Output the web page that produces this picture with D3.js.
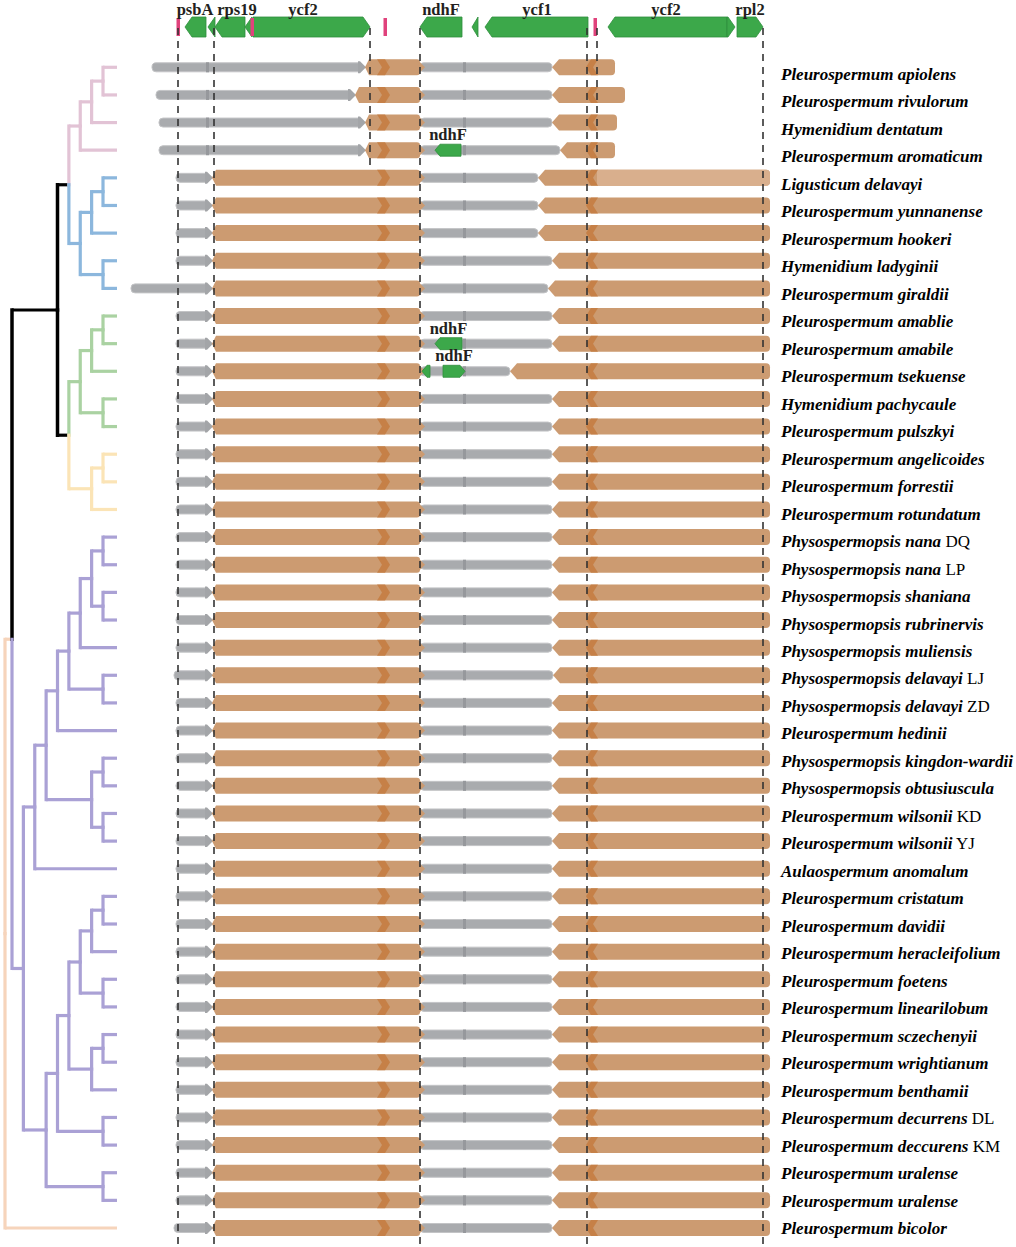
<!DOCTYPE html>
<html>
<head>
<meta charset="utf-8">
<script src="https://cdn.jsdelivr.net/npm/d3@7"></script>
<style>
body { margin: 0; background: #fff; }
text { font-family: "Liberation Serif", "Times New Roman", serif; }
</style>
</head>
<body>
<svg id="chart" width="1016" height="1247"></svg>
<script>
// taxa, top to bottom
var taxa = ["Pleurospermum apiolens", "Pleurospermum rivulorum", "Hymenidium dentatum", "Pleurospermum aromaticum",
  "Ligusticum delavayi", "Pleurospermum yunnanense", "Pleurospermum hookeri", "Hymenidium ladyginii",
  "Pleurospermum giraldii", "Pleurospermum amablie", "Pleurospermum amabile", "Pleurospermum tsekuense",
  "Hymenidium pachycaule", "Pleurospermum pulszkyi", "Pleurospermum angelicoides", "Pleurospermum forrestii",
  "Pleurospermum rotundatum", "Physospermopsis nana", "Physospermopsis nana", "Physospermopsis shaniana",
  "Physospermopsis rubrinervis", "Physospermopsis muliensis", "Physospermopsis delavayi", "Physospermopsis delavayi",
  "Pleurospermum hedinii", "Physospermopsis kingdon-wardii", "Physospermopsis obtusiuscula", "Pleurospermum wilsonii",
  "Pleurospermum wilsonii", "Aulaospermum anomalum", "Pleurospermum cristatum", "Pleurospermum davidii",
  "Pleurospermum heracleifolium", "Pleurospermum foetens", "Pleurospermum linearilobum", "Pleurospermum sczechenyii",
  "Pleurospermum wrightianum", "Pleurospermum benthamii", "Pleurospermum decurrens", "Pleurospermum deccurens",
  "Pleurospermum uralense", "Pleurospermum uralense", "Pleurospermum bicolor"];
var tags = ["", "", "", "", "", "", "", "", "", "", "", "", "", "", "", "", "",
  "DQ", "LP", "", "", "", "LJ", "ZD", "", "", "", "KD", "YJ", "", "", "", "", "", "", "", "", "", "DL", "KM", "", "", ""];

// tree topology (tip = row index)
var cladePink = [[[0, 1], 2], 3];
var cladeBlue = [[[4, 5], 6], [7, 8]];
var cladeGreen = [[[9, 10], 11], [12, 13]];
var cladeYellow = [[14, 15], 16];
var cladePurple = [[[[[[[[17, 18], [19, 20]], 21], [22, 23]], 24], [[25, 26], [27, 28]]], 29],
  [[[[[[30, 31], 32], [33, 34]], [[35, 36], 37]], [38, 39]], [40, 41]]];
var topology = [[[[cladePink, cladeBlue], [cladeGreen, cladeYellow]], cladePurple], 42];

// region borders per row, map units
var lscStart = [22, 26, 29, 29, 46, 46, 46, 46, 1, 46, 46, 46, 46, 46, 46, 46, 46, 46, 46, 46, 46, 46, 44, 46,
  46, 46, 46, 46, 46, 46, 46, 46, 46, 46, 46, 46, 46, 46, 46, 46, 46, 46, 44];
var irAStart = [235, 225, 235, 235, 82, 82, 82, 82, 82, 82, 82, 82, 82, 82, 82, 82, 82, 82, 82, 82, 82, 82, 82, 82,
  82, 82, 82, 82, 82, 82, 82, 82, 82, 82, 82, 82, 82, 82, 82, 82, 82, 82, 82];
var irAEnd = [290, 290, 290, 290, 290, 290, 290, 290, 290, 290, 290, 290, 290, 290, 290, 290, 290, 290, 290, 290, 290,
  290, 290, 290, 290, 290, 290, 290, 290, 290, 290, 290, 290, 290, 290, 290, 290, 290, 290, 290, 290, 290, 290];
var irBStart = [422, 422, 422, 430, 408, 408, 408, 422, 418, 422, 422, 380, 422, 422, 422, 422, 422, 422, 422, 422, 422,
  422, 423, 422, 422, 422, 422, 422, 422, 422, 422, 422, 422, 422, 422, 422, 422, 422, 422, 422, 422, 422, 422];
var irBEnd = [485, 495, 487, 485, 640, 640, 640, 640, 640, 640, 640, 640, 640, 640, 640, 640, 640, 640, 640, 640, 640,
  640, 640, 640, 640, 640, 640, 640, 640, 640, 640, 640, 640, 640, 640, 640, 640, 640, 640, 640, 640, 640, 640];
var fadedRows = [4];
var fadeFrom = 467;
var irAMark = 247, irBMark = 456, sscJoint = 335, lscJoint = 78;

// genes drawn inside rows
var rowGeneRow = [3, 10, 11, 11];
var rowGeneName = ["ndhF", "ndhF", "", "ndhF"];
var rowGeneStart = [305, 305, 292, 313];
var rowGeneEnd = [331, 332, 300, 335];
var rowGeneStrand = [-1, -1, -1, 1];

// reference genes on top
var geneName = ["psbA", "", "rps19", "", "ycf2", "ndhF", "", "ycf1", "ycf2", "", "rpl2"];
var geneStart = [55, 78, 85, 115, 123, 290, 342, 355, 478, 597, 607];
var geneEnd = [76, 85, 115, 122, 240, 332, 348, 458, 597, 605, 633];
var geneStrand = [-1, -1, -1, -1, 1, -1, -1, -1, -1, 1, 1];
var geneLabelAt = [65, 0, 107, 0, 173, 311, 0, 407, 536, 0, 620];
var trnMarks = [48, 122, 255, 465];

// junction lines and how many rows they cover
var junctions = [48, 84, 240, 290, 457, 467, 633];
var junctionRows = [43, 43, 4, 43, 43, 4, 43];

var cladeColors = ["#e2c3d5", "#8cb7dd", "#aad2a2", "#fbe4b6", "#aaa1d5"];
var peach = "#f6d4bb";
var orange = "#cc9b71", orangeDark = "#c47b40", orangeLight = "#d9af8d";
var grey = "#a9abae", greyDark = "#96989c", green = "#3ca84a";

var svg = d3.select("#chart");
var xMap = d3.scaleLinear().domain([0, 640]).range([130, 770]);
var yRow = d3.scaleLinear().domain([0, taxa.length - 1]).range([67.3, 1228]);
var yLabel = d3.scaleLinear().domain([0, taxa.length - 1]).range([80, 1234]);
var xTree = d3.scaleLinear().domain([0, 1, 9, 10]).range([117, 103, 12, 5]);

function arrowPath(x0, x1, yc, h, dir, tip) {
	var t = Math.min(tip, x1 - x0), top = yc - h / 2, bot = yc + h / 2;
	if (dir > 0) {
		return "M" + x0 + "," + top + "L" + (x1 - t) + "," + top + "L" + x1 + "," + yc + "L" + (x1 - t) + "," + bot + "L" + x0 + "," + bot + "Z";
	}
	return "M" + x1 + "," + top + "L" + (x0 + t) + "," + top + "L" + x0 + "," + yc + "L" + (x0 + t) + "," + bot + "L" + x1 + "," + bot + "Z";
}

// ---- tree
var root = d3.hierarchy(topology, function (d) { return Array.isArray(d) ? d : null; });
root.eachAfter(function (n) {
	n.ty = n.children ? d3.mean(n.children, function (c) { return c.ty; }) : yRow(n.data);
	n.tx = xTree(n.height);
});
function edgeColor(n) {
	var anc = n.ancestors();
	for (var i = 0; i < anc.length; i++) {
		var k = [cladePink, cladeBlue, cladeGreen, cladeYellow, cladePurple].indexOf(anc[i].data);
		if (k >= 0) return cladeColors[k];
	}
	return n.depth === 1 ? peach : "#000";
}
var edges = root.descendants().filter(function (n) { return n.parent; });
svg.append("g").attr("id", "tree")
	.selectAll("path").data(edges).enter().append("path")
	.attr("d", function (n) { return "M" + n.parent.tx + "," + n.ty + "H" + n.tx; })
	.attr("fill", "none")
	.attr("stroke", edgeColor)
	.attr("stroke-width", 3.2);
svg.select("#tree").selectAll("path.v").data(edges).enter().append("path")
	.attr("class", "v")
	.attr("d", function (n) { return "M" + n.parent.tx + "," + n.parent.ty + "V" + n.ty; })
	.attr("fill", "none")
	.attr("stroke", edgeColor)
	.attr("stroke-width", function (n) { return edgeColor(n) === "#000" ? 3.5 : 3.2; })
	.attr("stroke-linecap", "square");

// ---- rows
var rows = svg.append("g").attr("id", "rows");
taxa.forEach(function (name, i) {
	var y = yRow(i), g = rows.append("g");
	var a0 = xMap(lscStart[i]), a1 = xMap(irAStart[i]), b1 = xMap(irAEnd[i]);
	var c0 = xMap(irBStart[i]), c1 = xMap(irBEnd[i]);
	// LSC
	g.append("rect").attr("x", a0).attr("y", y - 4.5).attr("width", a1 - a0 - 3).attr("height", 9).attr("rx", 4)
		.attr("fill", grey).attr("stroke", "#c3c4c6").attr("stroke-width", 1);
	if (lscJoint > lscStart[i] + 5 && lscJoint < irAStart[i] - 10) {
		g.append("rect").attr("x", xMap(lscJoint) - 2).attr("y", y - 5).attr("width", 3).attr("height", 10).attr("fill", greyDark);
	}
	g.append("path").attr("d", arrowPath(a1 - 7, a1 + 1, y, 12, 1, 6)).attr("fill", "#a3a5a8");
	// SSC
	g.append("rect").attr("x", b1).attr("y", y - 4.5).attr("width", c0 - b1).attr("height", 9).attr("rx", 4)
		.attr("fill", grey).attr("stroke", "#c3c4c6").attr("stroke-width", 1);
	g.append("rect").attr("x", xMap(sscJoint) - 2).attr("y", y - 5).attr("width", 3).attr("height", 10).attr("fill", greyDark);
	// IRa
	g.append("path")
		.attr("d", "M" + a1 + "," + y + "L" + (a1 + 4) + "," + (y - 8) + "L" + (b1 - 3) + "," + (y - 8) +
			"Q" + b1 + "," + (y - 8) + " " + b1 + "," + (y - 5) + "L" + b1 + "," + (y + 5) +
			"Q" + b1 + "," + (y + 8) + " " + (b1 - 3) + "," + (y + 8) + "L" + (a1 + 4) + "," + (y + 8) + "Z")
		.attr("fill", orange);
	g.append("path").attr("d", arrowPath(b1, b1 + 5, y, 10, 1, 5)).attr("fill", orange);
	var m = xMap(irAMark);
	g.append("path")
		.attr("d", "M" + m + "," + (y - 8) + "L" + (m + 8) + "," + (y - 8) + "L" + (m + 13) + "," + y + "L" + (m + 8) + "," + (y + 8) +
			"L" + m + "," + (y + 8) + "L" + (m + 5) + "," + y + "Z")
		.attr("fill", orangeDark).attr("opacity", 0.85);
	// IRb
	function irbPath(from, to) {
		return "M" + from + "," + y + "L" + (from + 7) + "," + (y - 8) + "L" + (to - 4) + "," + (y - 8) +
			"Q" + to + "," + (y - 8) + " " + to + "," + (y - 4) + "L" + to + "," + (y + 4) +
			"Q" + to + "," + (y + 8) + " " + (to - 4) + "," + (y + 8) + "L" + (from + 7) + "," + (y + 8) + "Z";
	}
	g.append("path").attr("d", irbPath(c0, c1)).attr("fill", orange);
	if (fadedRows.indexOf(i) >= 0) {
		var f = xMap(fadeFrom);
		g.append("path")
			.attr("d", "M" + f + "," + (y - 8) + "L" + (c1 - 4) + "," + (y - 8) + "Q" + c1 + "," + (y - 8) + " " + c1 + "," + (y - 4) +
				"L" + c1 + "," + (y + 4) + "Q" + c1 + "," + (y + 8) + " " + (c1 - 4) + "," + (y + 8) + "L" + f + "," + (y + 8) + "Z")
			.attr("fill", orangeLight);
	}
	var n = xMap(irBMark);
	g.append("path")
		.attr("d", "M" + (n + 5) + "," + (y - 8) + "L" + (n + 12) + "," + (y - 8) + "L" + (n + 7) + "," + y + "L" + (n + 12) + "," + (y + 8) +
			"L" + (n + 5) + "," + (y + 8) + "L" + n + "," + y + "Z")
		.attr("fill", orangeDark).attr("opacity", 0.85);
});

// genes inside rows
rowGeneRow.forEach(function (r, k) {
	var y = yRow(r);
	rows.append("path")
		.attr("d", arrowPath(xMap(rowGeneStart[k]), xMap(rowGeneEnd[k]), y, 12, rowGeneStrand[k], 5))
		.attr("fill", green).attr("stroke", "#2f8e3c").attr("stroke-width", 0.8);
	if (rowGeneName[k]) {
		rows.append("text")
			.attr("x", (xMap(rowGeneStart[k]) + xMap(rowGeneEnd[k])) / 2)
			.attr("y", y - 10)
			.attr("text-anchor", "middle")
			.attr("font-size", "16.5px").attr("font-weight", "bold").attr("fill", "#231f20")
			.text(rowGeneName[k]);
	}
});

// ---- header genes
var head = svg.append("g").attr("id", "header");
head.selectAll("path").data(geneName).enter().append("path")
	.attr("d", function (d, k) { return arrowPath(xMap(geneStart[k]), xMap(geneEnd[k]), 27, 20, geneStrand[k], 7); })
	.attr("fill", green).attr("stroke", "#2f8e3c").attr("stroke-width", 0.8);
head.selectAll("rect").data(trnMarks).enter().append("rect")
	.attr("x", function (d) { return xMap(d) - 1.5; }).attr("y", 18).attr("width", 3.5).attr("height", 18)
	.attr("fill", "#e0427c");
geneName.forEach(function (d, k) {
	if (!d) return;
	head.append("text")
		.attr("x", xMap(geneLabelAt[k]))
		.attr("y", 15)
		.attr("text-anchor", "middle")
		.attr("font-size", "16.5px").attr("font-weight", "bold").attr("fill", "#231f20")
		.text(d);
});

// ---- junction lines
svg.append("g").selectAll("line").data(junctions).enter().append("line")
	.attr("x1", function (d) { return xMap(d); }).attr("x2", function (d) { return xMap(d); })
	.attr("y1", 28)
	.attr("y2", function (d, k) { return junctionRows[k] >= taxa.length ? 1245 : yRow(junctionRows[k] - 1) + 16; })
	.attr("stroke", "#333").attr("stroke-width", 1.6).attr("stroke-dasharray", "7,6");

// ---- labels
var labels = svg.append("g").attr("id", "labels");
taxa.forEach(function (name, i) {
	var t = labels.append("text").attr("x", 781).attr("y", yLabel(i)).attr("font-size", "17px").attr("fill", "#000");
	t.append("tspan").attr("font-weight", "bold").attr("font-style", "italic").text(name);
	if (tags[i]) t.append("tspan").text(" " + tags[i]);
});
</script>
</body>
</html>
